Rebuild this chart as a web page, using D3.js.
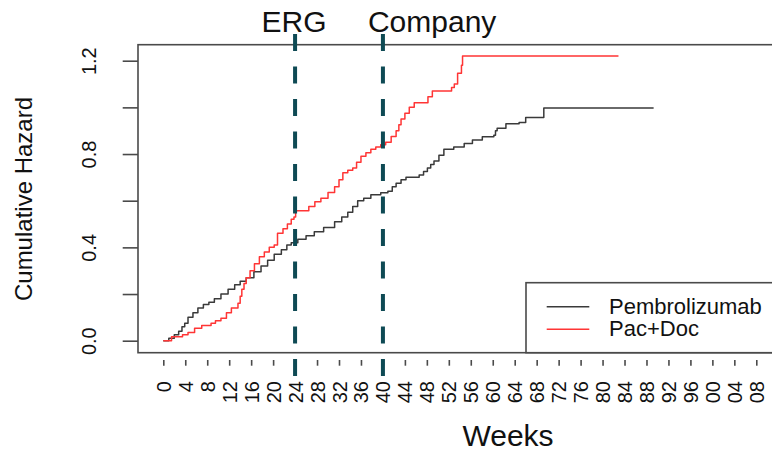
<!DOCTYPE html>
<html>
<head>
<meta charset="utf-8">
<script src="https://cdn.jsdelivr.net/npm/d3@7"></script>
<style>
  body { margin: 0; background: #fff; }
  svg { display: block; font-family: 'Liberation Sans', Arial, sans-serif; }
  .axisText { fill: #111; }
</style>
</head>
<body>
<div id="chart"></div>
<script>
// Cumulative hazard (weeks, hazard)
var pembroWeeks  = [0, 1, 2, 2.8, 3.4, 3.9, 4.5, 5.4, 6.3, 7.3, 8.3, 9.3, 10.5, 11.8, 13, 14, 15.1, 16.5, 17.8, 19, 20.2, 21.5, 22.5, 23.3, 24.5, 26, 27.5, 29.2, 31.2, 32.5, 33.6, 34.5, 35.4, 36.5, 37.8, 39.6, 40.9, 41.7, 42.4, 43.3, 44.2, 46.6, 47.4, 48.1, 48.7, 49.3, 50.2, 51.1, 52.9, 54.8, 56.3, 58.1, 60.2, 60.5, 60.8, 62.4, 64.8, 66, 69.3, 89.3];
var pembroHazard = [0, 0.01, 0.025, 0.04, 0.06, 0.075, 0.10, 0.12, 0.14, 0.155, 0.165, 0.18, 0.20, 0.22, 0.24, 0.255, 0.27, 0.295, 0.32, 0.345, 0.37, 0.39, 0.41, 0.42, 0.435, 0.45, 0.467, 0.485, 0.51, 0.53, 0.55, 0.575, 0.60, 0.61, 0.625, 0.634, 0.64, 0.66, 0.675, 0.69, 0.70, 0.71, 0.725, 0.74, 0.755, 0.77, 0.795, 0.82, 0.83, 0.845, 0.86, 0.874, 0.88, 0.90, 0.91, 0.93, 0.935, 0.957, 0.997, 0.997];

var pacDocWeeks  = [0, 1.5, 3.5, 4.5, 5.7, 7, 8.7, 9.5, 10.5, 11.5, 12.4, 13.6, 14, 14.3, 14.7, 15.1, 15.8, 16.6, 17.5, 18.4, 19.3, 20.2, 20.8, 21.8, 22.6, 23.3, 23.8, 24.1, 25.4, 26.5, 27.6, 28.7, 30, 31.2, 32, 32.7, 33.6, 34.5, 35.2, 36, 36.9, 37.8, 38.7, 39.6, 40.5, 41.5, 42.4, 42.9, 43.3, 44, 44.8, 45.7, 47.5, 48.2, 49, 52, 52.5, 53, 53.6, 54.3, 54.5, 82.9];
var pacDocHazard = [0, 0.017, 0.025, 0.035, 0.053, 0.065, 0.075, 0.085, 0.096, 0.12, 0.14, 0.16, 0.19, 0.22, 0.245, 0.27, 0.30, 0.33, 0.36, 0.38, 0.40, 0.41, 0.46, 0.48, 0.50, 0.52, 0.53, 0.557, 0.557, 0.575, 0.595, 0.61, 0.635, 0.66, 0.69, 0.72, 0.73, 0.74, 0.765, 0.79, 0.805, 0.82, 0.83, 0.84, 0.85, 0.875, 0.90, 0.925, 0.95, 0.975, 1.0, 1.02, 1.02, 1.045, 1.07, 1.07, 1.085, 1.10, 1.146, 1.18, 1.22, 1.22];

var seriesNames  = ['Pembrolizumab', 'Pac+Doc'];
var seriesColors = ['#3a3a3a', '#ff3535'];

var xTickValues = [0, 4, 8, 12, 16, 20, 24, 28, 32, 36, 40, 44, 48, 52, 56, 60, 64, 68, 72, 76, 80, 84, 88, 92, 96, 100, 104, 108];
var yTickValues = [0, 0.2, 0.4, 0.6, 0.8, 1.0, 1.2];
var yTickLabels = ['0.0', '', '0.4', '', '0.8', '', '1.2'];

// marker lines at the top
var markerWeeks  = [24, 40];
var markerLabels = ['ERG', 'Company'];

var svgWidth = 772;
var svgHeight = 453;

var svg = d3.select('#chart')
    .append('svg')
        .attr('width', svgWidth)
        .attr('height', svgHeight);

// plot box (runs off the right edge like the picture)
var box = { left: 138, top: 44.7, right: 800, bottom: 352.7 };

var xScale = d3.scaleLinear().domain([0, 108]).range([163.3, 756.3]);
var yScale = d3.scaleLinear().domain([0, 1.2]).range([340.7, 60.7]);

// clip for the week labels, the picture cuts their third row
svg.append('clipPath')
    .attr('id', 'labelClip')
    .append('rect')
        .attr('x', 0).attr('y', 360)
        .attr('width', svgWidth).attr('height', 43);

// curves
var line = d3.line()
    .x(function(d) { return xScale(d[0]); })
    .y(function(d) { return yScale(d[1]); })
    .curve(d3.curveStepAfter);

var allSeries = [
    d3.zip(pembroWeeks, pembroHazard),
    d3.zip(pacDocWeeks, pacDocHazard)
];

svg.selectAll('.curve')
    .data(allSeries)
    .enter()
    .append('path')
        .attr('class', 'curve')
        .attr('d', line)
        .attr('fill', 'none')
        .attr('stroke', function(d, i) { return seriesColors[i]; })
        .attr('stroke-width', 1.5)
        .attr('stroke-linejoin', 'round');

// box
svg.append('rect')
    .attr('x', box.left)
    .attr('y', box.top)
    .attr('width', box.right - box.left)
    .attr('height', box.bottom - box.top)
    .attr('fill', 'none')
    .attr('stroke', '#4a4a4a')
    .attr('stroke-width', 1.6);

// y axis
var leftAxis = d3.axisLeft(yScale)
    .tickValues(yTickValues)
    .tickSize(15.3)
    .tickFormat(function(d, i) { return yTickLabels[i]; });

var yAxisG = svg.append('g')
    .attr('transform', 'translate(' + box.left + ',0)')
    .call(leftAxis);
yAxisG.select('.domain').remove();
yAxisG.selectAll('line').attr('stroke', '#4a4a4a').attr('stroke-width', 1.6);
yAxisG.selectAll('text')
    .attr('x', null).attr('dy', null)
    .attr('transform', 'translate(-42,0) rotate(-90)')
    .attr('text-anchor', 'middle')
    .attr('fill', '#111')
    .style('font-size', '20px');

// x axis, wrapped so the clip works in page coordinates
var xAxisWrap = svg.append('g')
    .attr('clip-path', 'url(#labelClip)');

var bottomAxis = d3.axisBottom(xScale)
    .tickValues(xTickValues)
    .tickSize(13)
    .tickFormat(d3.format('d'));

var xAxisG = xAxisWrap.append('g')
    .attr('transform', 'translate(0,' + box.bottom + ')')
    .call(bottomAxis);
xAxisG.select('.domain').remove();
xAxisG.selectAll('line').attr('stroke', '#4a4a4a').attr('stroke-width', 1.6);
xAxisG.selectAll('text')
    .attr('y', null).attr('dy', null)
    .attr('transform', 'translate(7,28.3) rotate(-90)')
    .attr('text-anchor', 'end')
    .attr('fill', '#111')
    .style('font-size', '20px');

// dashed marker lines
svg.selectAll('.marker')
    .data(markerWeeks)
    .enter()
    .append('line')
        .attr('class', 'marker')
        .attr('x1', function(d) { return xScale(d); })
        .attr('x2', function(d) { return xScale(d); })
        .attr('y1', 34)
        .attr('y2', 376)
        .attr('stroke', '#0e4a54')
        .attr('stroke-width', 4)
        .attr('stroke-dasharray', '17,15.5');

svg.selectAll('.markerText')
    .data(markerLabels)
    .enter()
    .append('text')
        .attr('class', 'axisText')
        .attr('x', function(d, i) { return i === 0 ? xScale(markerWeeks[i]) - 1 : xScale(markerWeeks[i]) - 15; })
        .attr('y', 32)
        .attr('text-anchor', function(d, i) { return i === 0 ? 'middle' : 'start'; })
        .style('font-size', '30px')
        .text(function(d) { return d; });

// axis titles
svg.append('text')
    .attr('class', 'axisText')
    .attr('transform', 'translate(32,199) rotate(-90)')
    .attr('text-anchor', 'middle')
    .style('font-size', '24px')
    .text('Cumulative Hazard');

svg.append('text')
    .attr('class', 'axisText')
    .attr('x', 508)
    .attr('y', 446)
    .attr('text-anchor', 'middle')
    .style('font-size', '30px')
    .text('Weeks');

// legend
var legend = svg.append('g');
legend.append('rect')
    .attr('x', 526)
    .attr('y', 282.7)
    .attr('width', 300)
    .attr('height', box.bottom - 282.7)
    .attr('fill', '#fff')
    .attr('stroke', '#4a4a4a')
    .attr('stroke-width', 1.6);

var legendRows = legend.selectAll('.legendRow')
    .data(seriesNames)
    .enter()
    .append('g')
        .attr('class', 'legendRow')
        .attr('transform', function(d, i) { return 'translate(0,' + (306.7 + i * 22.6) + ')'; });

legendRows.append('line')
    .attr('x1', 546.7).attr('x2', 589.3)
    .attr('stroke', function(d, i) { return seriesColors[i]; })
    .attr('stroke-width', 1.4);

legendRows.append('text')
    .attr('class', 'axisText')
    .attr('x', 609)
    .attr('y', 7)
    .style('font-size', '22px')
    .text(function(d) { return d; });
</script>
</body>
</html>
